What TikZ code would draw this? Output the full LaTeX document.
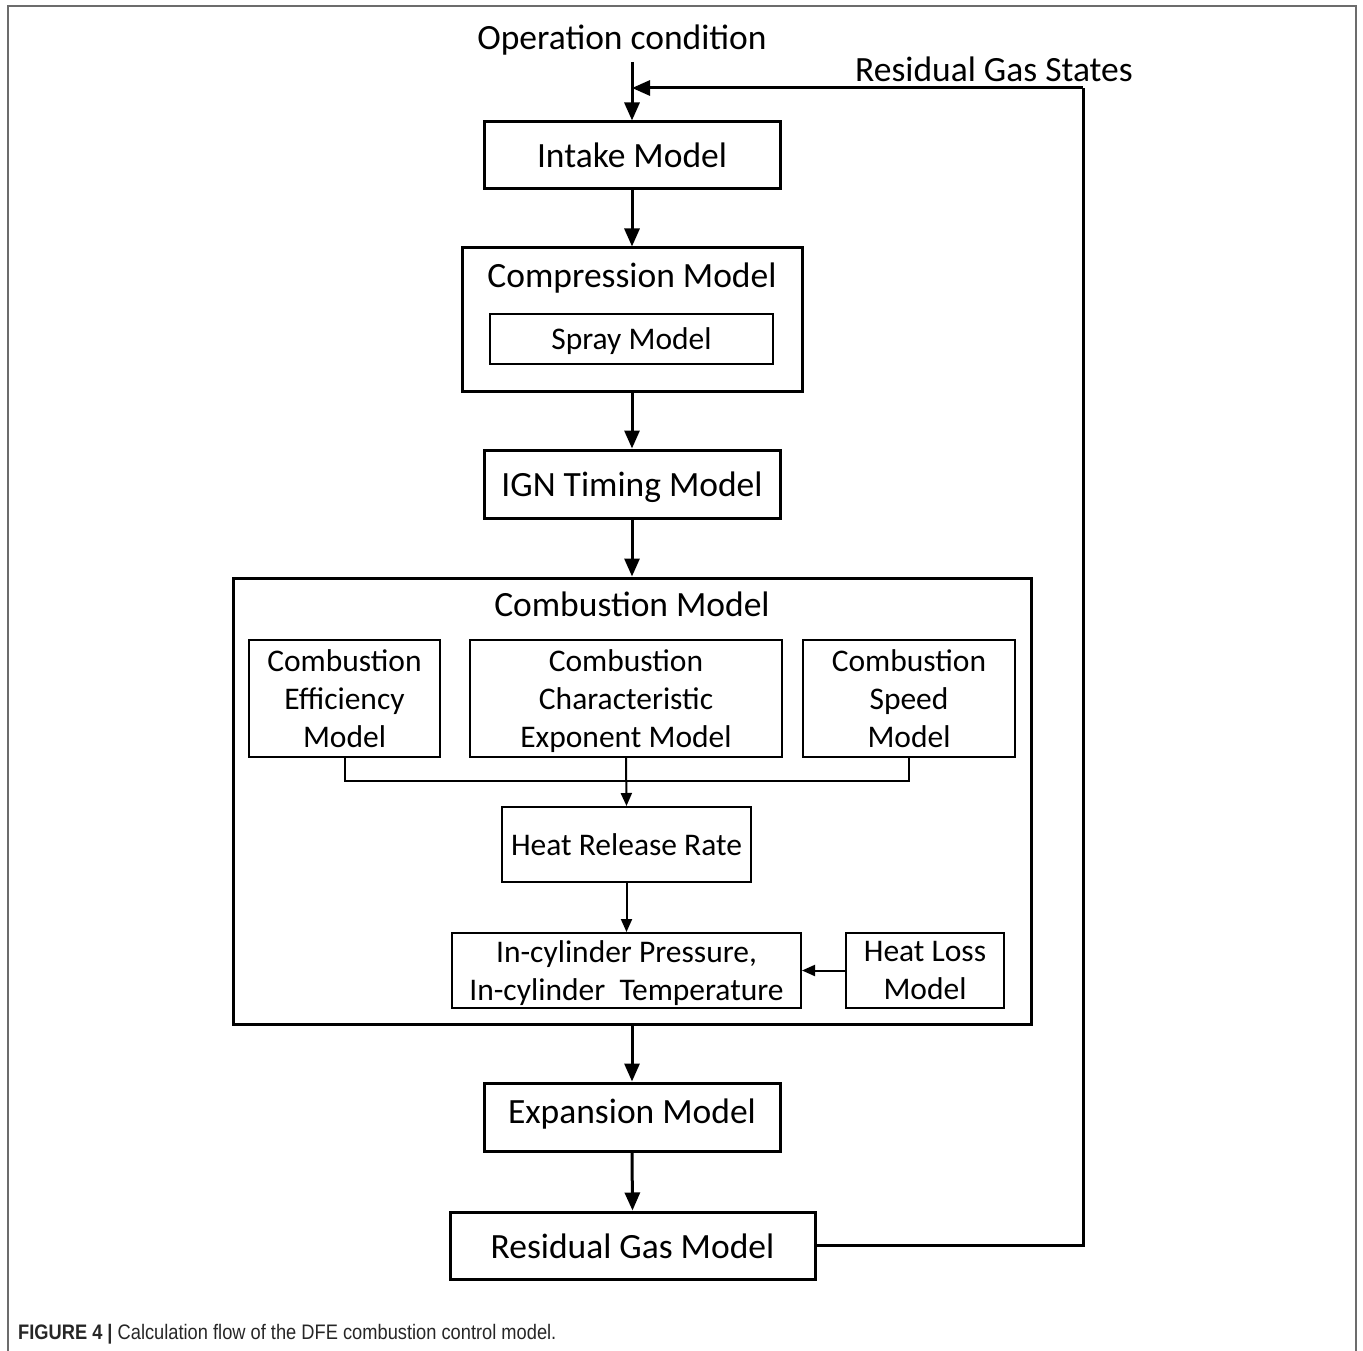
\documentclass[tikz,border=0pt]{standalone}
\usepackage{fontspec}
\setmainfont{Carlito}
\newfontfamily\capfont{Liberation Sans}
\usetikzlibrary{arrows.meta}
\begin{document}
\begin{tikzpicture}[x=1pt,y=-1pt,
  bigbox/.style={draw, line width=3pt, inner sep=0pt, align=center, text depth=0pt, font=\fontsize{35.5}{42}\selectfont},
  smallbox/.style={draw, line width=2pt, inner sep=0pt, align=center, text depth=0pt, font=\fontsize{31.5}{38}\selectfont},
  bigtxt/.style={inner sep=0pt, text height=22.4pt, text depth=0pt, font=\fontsize{35.5}{42}\selectfont},
  mainarr/.style={line width=3pt, -{Triangle[length=18pt,width=15pt]}},
  thinarr/.style={line width=2pt, -{Triangle[length=13pt,width=11pt]}},
  thinline/.style={line width=2pt}]
\useasboundingbox (0,0) rectangle (1363,1351);
% frame
\draw[gray!85!black, line width=2pt] (7.5,1351) -- (7.5,6) -- (1355.5,6) -- (1355.5,1351);

% top labels
\node[bigtxt] (opcond) at (622,38) {Operation condition};
\node[bigtxt] (rgs) at (994,70.5) {Residual Gas States};
\coordinate (opin) at (632,62);
\coordinate (fb) at (632,88);
\coordinate (fbcorner) at (1083,88);

% main chain
\node[bigbox, text height=24.4pt, minimum width=296pt, minimum height=67pt] (intake) at (632,155.5) {Intake Model};
\node[draw, line width=3pt, minimum width=340pt, minimum height=143pt] (comp) at (632,319.5) {};
\node[bigtxt] (comptitle) at (632,276.5) {Compression Model};
\node[smallbox, text height=21.3pt, minimum width=283pt, minimum height=50pt] (spray) at (631.5,338.5) {Spray Model};
\node[bigbox, text height=25.4pt, minimum width=296pt, minimum height=68pt] (ign) at (632,484) {IGN Timing Model};
\node[draw, line width=3pt, minimum width=798pt, minimum height=446pt] (comb) at (632,801) {};
\node[bigtxt] (combtitle) at (632,605) {Combustion Model};
\node[smallbox, minimum width=191pt, minimum height=117pt] (eff) at (344.5,698.5) {Combustion\\Efficiency\\Model};
\node[smallbox, minimum width=312pt, minimum height=117pt] (char) at (626,698.5) {Combustion\\Characteristic\\Exponent Model};
\node[smallbox, minimum width=212pt, minimum height=117pt] (speed) at (909,698.5) {Combustion\\Speed\\Model};
\node[smallbox, text height=22.9pt, minimum width=249pt, minimum height=75pt] (hrr) at (626.5,844.5) {Heat Release Rate};
\node[smallbox, minimum width=349pt, minimum height=75pt] (incyl) at (626.5,970.5) {In-cylinder Pressure,\\In-cylinder\ \ Temperature};
\node[smallbox, text depth=-3pt, minimum width=158pt, minimum height=75pt] (hloss) at (925,970.5) {Heat Loss\\Model};
\node[bigbox, text height=12.4pt, minimum width=296pt, minimum height=68pt] (exp) at (632,1117) {Expansion Model};
\node[bigbox, text height=26.4pt, minimum width=365pt, minimum height=67pt] (resid) at (632.5,1245.5) {Residual Gas Model};
\coordinate (junc) at (626,781);

% connectors
\draw[mainarr] (opin) -- (intake.north);
\draw[line width=3pt] (resid.east) -| (fbcorner);
\draw[mainarr] (fbcorner) -- (fb);
\draw[mainarr] (intake.south) -- (comp.north);
\draw[mainarr] (comp.south) -- (ign.north);
\draw[mainarr] (ign.south) -- (comb.north);
\draw[thinline] (eff.south) |- (junc) -| (speed.south);
\draw[thinarr] (char.south) -- (hrr.north);
\draw[thinarr] (hrr.south) -- (incyl.north);
\draw[thinarr] (hloss.west) -- (incyl.east);
\draw[mainarr] (comb.south) -- (exp.north);
\draw[mainarr] (exp.south) -- (resid.north);

% caption
\node[anchor=west, inner sep=0pt, xscale=0.87, font=\capfont\fontsize{21}{24}\selectfont, text=black!85] (caption) at (18,1334) {\textbf{FIGURE 4 |} Calculation flow of the DFE combustion control model.};
\end{tikzpicture}
\end{document}
